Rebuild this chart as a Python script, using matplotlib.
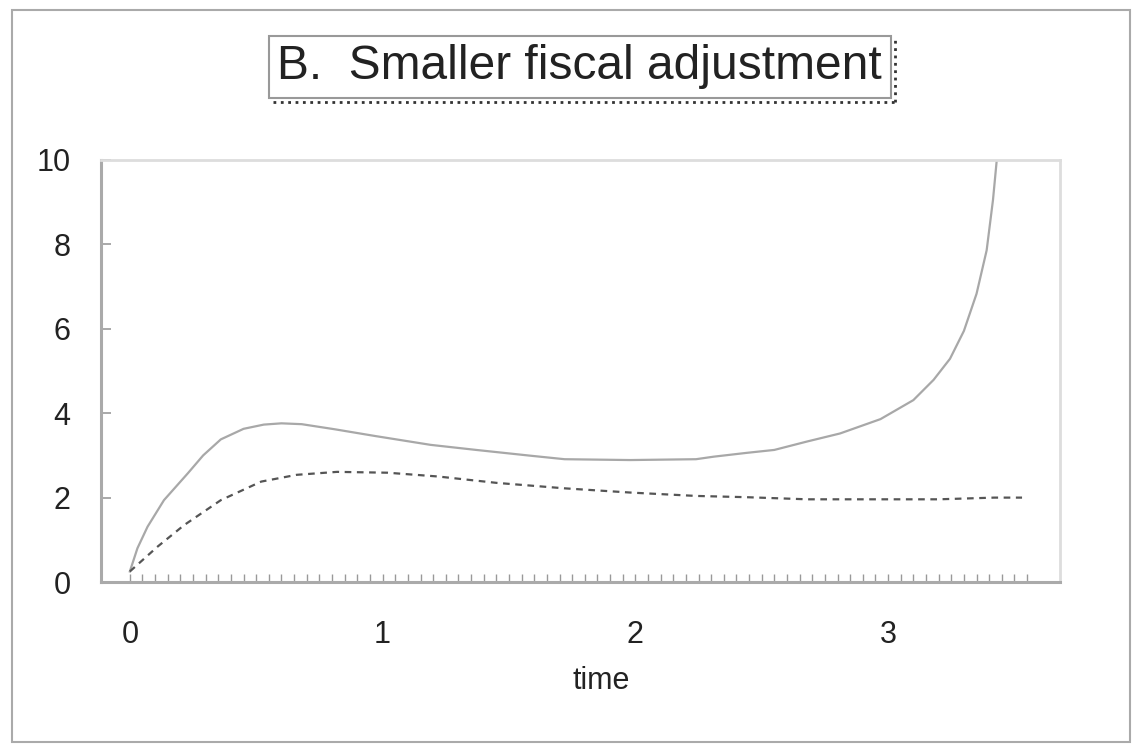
import numpy as np
import matplotlib
matplotlib.use("Agg")
import matplotlib.pyplot as plt
from matplotlib.patches import Rectangle
from matplotlib.lines import Line2D

plt.rcParams['font.family'] = ['Liberation Sans', 'DejaVu Sans']

# values
t_solid = [0.0, 0.03, 0.07, 0.135, 0.23, 0.29, 0.36, 0.45, 0.53, 0.6, 0.68, 0.81, 0.97,
           1.19, 1.37, 1.59, 1.72, 1.98, 2.24, 2.31, 2.44, 2.55, 2.68, 2.81, 2.97,
           3.10, 3.18, 3.245, 3.30, 3.35, 3.39, 3.415, 3.43]
y_solid = [0.25, 0.8, 1.31, 1.94, 2.58, 3.0, 3.38, 3.63, 3.73, 3.76, 3.74, 3.62, 3.46,
           3.25, 3.13, 2.99, 2.91, 2.89, 2.91, 2.97, 3.06, 3.13, 3.33, 3.52, 3.86,
           4.31, 4.79, 5.29, 5.95, 6.83, 7.86, 9.05, 10.0]

t_dashed = [0.0, 0.11, 0.215, 0.36, 0.52, 0.66, 0.82, 1.02, 1.22, 1.45, 1.72, 1.98,
            2.24, 2.44, 2.68, 2.94, 3.2, 3.42, 3.53]
y_dashed = [0.25, 0.84, 1.35, 1.94, 2.38, 2.54, 2.61, 2.59, 2.50, 2.35, 2.22, 2.12,
            2.04, 2.01, 1.96, 1.96, 1.96, 2.0, 2.0]

x_ticks = [0, 1, 2, 3]
y_ticks = [0, 2, 4, 6, 8, 10]
title_txt = "B.  Smaller fiscal adjustment"

fig = plt.figure(figsize=(11.39, 7.44), dpi=100)
ax = fig.add_axes([0.0887, 0.2177, 0.8419, 0.5673])

ax.plot(t_solid, y_solid, color="#a8a8a8", linewidth=1.6)
ax.plot(t_dashed, y_dashed, color="#555555", linewidth=1.6, linestyle=(0, (3, 2.5)))

ax.set_xlim(-0.114, 3.68)
ax.set_ylim(0, 10)
ax.set_xticks(x_ticks)
ax.set_yticks(y_ticks)
ax.set_xticks(np.arange(0, 3.56, 0.05), minor=True)
ax.tick_params(axis="both", which="both", direction="in", color="#999999",
               labelsize=22, labelcolor="#222222")
ax.tick_params(axis="y", length=7, width=1.2, pad=22)
ax.tick_params(axis="x", which="both", length=6, width=1.0, pad=27)

for s in ["left", "bottom"]:
    ax.spines[s].set_color("#aaaaaa")
    ax.spines[s].set_linewidth(2.2)
for s in ["top", "right"]:
    ax.spines[s].set_color("#dddddd")
    ax.spines[s].set_linewidth(2.0)

ax.set_xlabel("time", fontsize=22, color="#222222")
ax.xaxis.set_label_coords(0.522, -0.2)

# Titelbox mit gepunktetem Schatten
ttl = fig.text(0.509, 0.91, title_txt, fontsize=34.5, ha="center", va="center",
               color="#222222",
               bbox=dict(boxstyle="square,pad=0.18", facecolor="white",
                         edgecolor="#999999", linewidth=1.5))
fig.canvas.draw()
bb = ttl.get_bbox_patch().get_window_extent().transformed(fig.transFigure.inverted())
dx, dy = 4 / 1139, 4 / 744
fig.add_artist(Line2D([bb.x0 + dx, bb.x1 + dx], [bb.y0 - dy, bb.y0 - dy],
                      transform=fig.transFigure, color="#333333", linestyle=":", linewidth=2))
fig.add_artist(Line2D([bb.x1 + dx, bb.x1 + dx], [bb.y0 - dy, bb.y1 - dy],
                      transform=fig.transFigure, color="#333333", linestyle=":", linewidth=2))

# äußerer Rahmen
fig.add_artist(Rectangle((12 / 1139, 2 / 744), 1118 / 1139, 732 / 744,
                         transform=fig.transFigure, fill=False,
                         edgecolor="#aaaaaa", linewidth=1.5))

fig.savefig("out.png", dpi=100)
